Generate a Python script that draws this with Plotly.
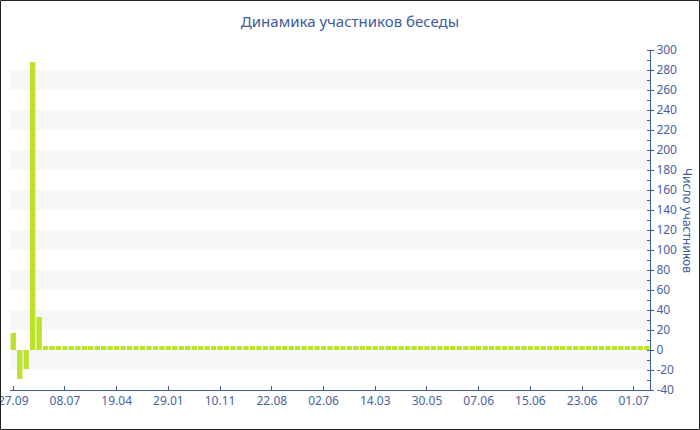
import plotly.graph_objects as go

title_text = "Динамика участников беседы"
y_title = "Число участников"

# bar values (one per period)
values = [17, -29, -19, 288, 33,
          4, 4, 4, 4, 4, 4, 4, 4, 4, 4,
          4, 4, 4, 4, 4, 4, 4, 4, 4, 4,
          4, 4, 4, 4, 4, 4, 4, 4, 4, 4,
          4, 4, 4, 4, 4, 4, 4, 4, 4, 4,
          4, 4, 4, 4, 4, 4, 4, 4, 4, 4,
          4, 4, 4, 4, 4, 4, 4, 4, 4, 4,
          4, 4, 4, 4, 4, 4, 4, 4, 4, 4,
          4, 4, 4, 4, 4, 4, 4, 4, 4, 4,
          4, 4, 4, 4, 4, 4, 4, 4, 4, 4,
          4, 4, 4, 4]
categories = list(range(len(values)))

x_tick_labels = ["27.09", "08.07", "19.04", "29.01", "10.11", "22.08", "02.06",
                 "14.03", "30.05", "07.06", "15.06", "23.06", "01.07"]
x_tick_step = 8
x_tick_vals = [i * x_tick_step for i in range(len(x_tick_labels))]

y_tick_vals = [-40, -20, 0, 20, 40, 60, 80, 100, 120, 140, 160, 180, 200,
               220, 240, 260, 280, 300]
y_tick_text = [str(v) for v in y_tick_vals]
band_ranges = [(-20, 0), (20, 40), (60, 80), (100, 120), (140, 160),
               (180, 200), (220, 240), (260, 280)]

AXIS = "#3e5b9b"
LABEL = "#4a62a2"
BAR = "#bde22c"
FONT = "Noto Sans"

fig = go.Figure()
fig.add_trace(go.Bar(x=categories, y=values, marker=dict(color=BAR, line=dict(width=0)),
                     showlegend=False, hoverinfo="skip"))

shapes = []
for lo, hi in band_ranges:
    shapes.append(dict(type="rect", xref="paper", yref="y", x0=0, x1=1, y0=lo, y1=hi,
                       fillcolor="#f7f7f7", line=dict(width=0), layer="below"))

W, H = 700, 430
ml, mr, mt, mb = 10, 50, 50, 40
pw, ph = W - ml - mr, H - mt - mb
# outer border of the whole chart
shapes.append(dict(type="rect", xref="paper", yref="paper",
                   x0=(0.5 - ml) / pw, x1=(W - 0.5 - ml) / pw,
                   y0=(0.5 - mb) / ph, y1=(H - mb - 0.5) / ph,
                   line=dict(color="#222222", width=1), fillcolor="rgba(0,0,0,0)"))

fig.update_layout(
    width=W, height=H,
    margin=dict(l=ml, r=mr, t=mt, b=mb, autoexpand=False),
    paper_bgcolor="white", plot_bgcolor="white",
    bargap=0.16,
    title=dict(text=title_text, x=0.5, xref="container", xanchor="center",
               y=1 - 22 / H, yanchor="middle",
               font=dict(family=FONT, size=15, color="#3e5b9b")),
    font=dict(family=FONT, size=12, color=LABEL),
    shapes=shapes,
    xaxis=dict(range=[-0.5, len(values) - 0.5], tickmode="array", automargin=False,
               tickvals=x_tick_vals, ticktext=x_tick_labels, ticklabeloverflow="allow",
               showgrid=False, zeroline=False, showline=True, linecolor=AXIS, linewidth=1,
               ticks="inside", ticklen=4, tickcolor=AXIS,
               tickfont=dict(family=FONT, size=12, color=LABEL)),
    yaxis=dict(range=[-40, 300], side="right", tickmode="array", automargin=False,
               tickvals=y_tick_vals, ticktext=y_tick_text, ticklabeloverflow="allow",
               showgrid=False, zeroline=False, showline=True, linecolor=AXIS, linewidth=1,
               ticks="outside", ticklen=3, tickcolor=AXIS,
               minor=dict(dtick=10, ticks="inside", ticklen=3, tickcolor=AXIS, showgrid=False),
               tickfont=dict(family=FONT, size=12, color=LABEL)),
    annotations=[dict(text=y_title, textangle=90, xref="paper", yref="paper",
                      x=(688 - ml) / pw, y=0.5, xanchor="center", yanchor="middle",
                      showarrow=False,
                      font=dict(family=FONT, size=12, color="#3e5b9b"))],
)

fig.write_html("out.html", config={"displayModeBar": False},
               post_script="document.body.style.margin='0';document.body.style.overflow='hidden';")
